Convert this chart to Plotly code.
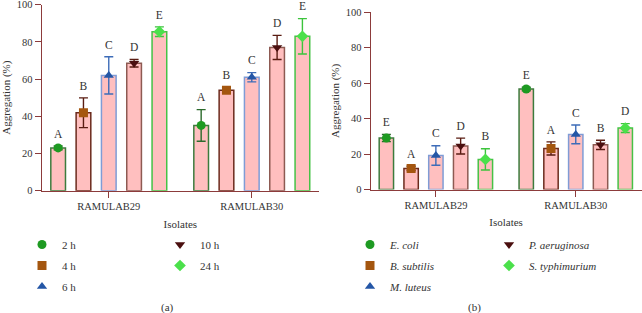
import plotly.graph_objects as go

isolates = ["RAMULAB29", "RAMULAB30"]

# Panel (a): aggregation over time
time_labels = ["2 h", "4 h", "6 h", "10 h", "24 h"]
time_means = [[23.0, 35.1], [41.9, 54.0], [62.0, 61.0], [68.5, 77.0], [85.5, 83.0]]
time_errs = [[1.0, 8.5], [8.0, 1.5], [10.0, 2.5], [2.0, 6.5], [2.6, 9.5]]
time_letters = [["A", "A"], ["B", "B"], ["C", "C"], ["D", "D"], ["E", "E"]]

# Panel (b): co-aggregation with pathogens
path_labels = ["<i>E. coli</i>", "<i>B. subtilis</i>", "<i>M. luteus</i>",
               "<i>P. aeruginosa</i>", "<i>S. typhimurium</i>"]
path_means = [[29.0, 56.7], [11.9, 23.2], [19.2, 31.1], [24.5, 25.2], [17.0, 34.7]]
path_errs = [[2.0, 1.0], [1.2, 3.7], [5.5, 5.3], [4.5, 2.6], [6.0, 2.5]]
path_letters = [["E", "E"], ["A", "A"], ["C", "C"], ["D", "B"], ["B", "D"]]

symbols = ["circle", "square", "triangle-up", "triangle-down", "diamond"]
marker_colors = ["#1e9a22", "#a4560f", "#2456a6", "#4a0f0f", "#4be04b"]
err_colors = ["#2c6a2c", "#5a1c12", "#3d6cb8", "#5a1c12", "#3cc43c"]
outline_colors = ["#3d7b3d", "#6b2a1c", "#7f9cd6", "#8d5a52", "#46c246"]
fill = "#ffbfbf"
axis_col = "#8c3b3b"
txt_col = "#333333"
FONT = "Liberation Serif, Times New Roman, serif"

fig = go.Figure()

panels = [
    ("x", "y", time_labels, time_means, time_errs, time_letters, ["legend", "legend", "legend", "legend2", "legend2"]),
    ("x2", "y2", path_labels, path_means, path_errs, path_letters, ["legend3", "legend3", "legend3", "legend4", "legend4"]),
]

for xa, ya, labels, means, errs, letters, legs in panels:
    for i, lab in enumerate(labels):
        og = f"{xa}_{i}"
        fig.add_trace(go.Bar(
            x=isolates, y=means[i], xaxis=xa, yaxis=ya, offsetgroup=og,
            marker=dict(color=fill, line=dict(color=outline_colors[i], width=1.5)),
            error_y=dict(type="data", array=errs[i], visible=True,
                         color=err_colors[i], thickness=1.4, width=4.5),
            showlegend=False, hoverinfo="skip",
        ))
        fig.add_trace(go.Scatter(
            x=isolates, y=means[i], xaxis=xa, yaxis=ya, offsetgroup=og,
            mode="markers", name=lab, legend=legs[i], legendgroup=og,
            marker=dict(symbol=symbols[i], color=marker_colors[i], size=9,
                        line=dict(width=0)),
        ))
        fig.add_trace(go.Scatter(
            x=isolates, y=[m + e for m, e in zip(means[i], errs[i])],
            xaxis=xa, yaxis=ya, offsetgroup=og, mode="markers+text",
            marker=dict(size=7, color="rgba(0,0,0,0)"), cliponaxis=False,
            text=letters[i], textposition="top center",
            textfont=dict(family=FONT, size=11.5, color=txt_col),
            showlegend=False, hoverinfo="skip",
        ))

axis_common = dict(
    showline=True, linecolor=axis_col, linewidth=1.3,
    ticks="outside", tickcolor=axis_col, ticklen=6, tickwidth=1.2,
    showgrid=False, zeroline=False, automargin=False,
    ticklabeloverflow="allow",
    tickfont=dict(family=FONT, size=10.5, color=txt_col),
)

fig.update_layout(
    width=642, height=313,
    margin=dict(l=0, r=0, t=0, b=0, autoexpand=False),
    paper_bgcolor="white", plot_bgcolor="white",
    barmode="group", bargap=0.115, bargroupgap=0.42,
    scattermode="group", scattergap=0.115,
    font=dict(family=FONT, size=11, color=txt_col),
    xaxis=dict(domain=[41.7 / 642, 319 / 642], range=[-0.469, 1.47], anchor="y",
               title=dict(text="Isolates", standoff=8, font=dict(family=FONT, size=11)),
               **axis_common),
    yaxis=dict(domain=[1 - 190.7 / 313, 1 - 4.7 / 313], range=[0, 100], anchor="x",
               tickvals=[0, 20, 40, 60, 80, 100],
               title=dict(text="Aggregation (%)", standoff=3, font=dict(family=FONT, size=11)),
               **axis_common),
    xaxis2=dict(domain=[370.7 / 642, 641.5 / 642], range=[-0.466, 1.47], anchor="y2",
                title=dict(text="Isolates", standoff=8, font=dict(family=FONT, size=11)),
                **axis_common),
    yaxis2=dict(domain=[1 - 189.5 / 313, 1 - 12.3 / 313], range=[0, 100], anchor="x2",
                tickvals=[0, 20, 40, 60, 80, 100],
                title=dict(text="Aggregation (%)", standoff=3, font=dict(family=FONT, size=11)),
                **axis_common),
    showlegend=True,
)

leg_common = dict(orientation="v", xanchor="left", yanchor="top",
                  bgcolor="rgba(0,0,0,0)", tracegroupgap=2,
                  font=dict(family=FONT, size=11, color=txt_col))
ly = 1 - 230 / 313
fig.update_layout(
    legend=dict(x=(44 - 22) / 642, y=ly, **leg_common),
    legend2=dict(x=(182 - 22) / 642, y=ly, **leg_common),
    legend3=dict(x=(372 - 22) / 642, y=ly, **leg_common),
    legend4=dict(x=(511 - 22) / 642, y=ly, **leg_common),
)

fig.add_annotation(text="(a)", x=159 / 642, y=1 - 307 / 313, xref="paper", yref="paper",
                   yanchor="middle", showarrow=False,
                   font=dict(family=FONT, size=11, color=txt_col))
fig.add_annotation(text="(b)", x=483 / 642, y=1 - 307 / 313, xref="paper", yref="paper",
                   yanchor="middle", showarrow=False,
                   font=dict(family=FONT, size=11, color=txt_col))

fig.write_html("out.html", config={"displayModeBar": False},
               post_script="document.body.style.margin='0';")
